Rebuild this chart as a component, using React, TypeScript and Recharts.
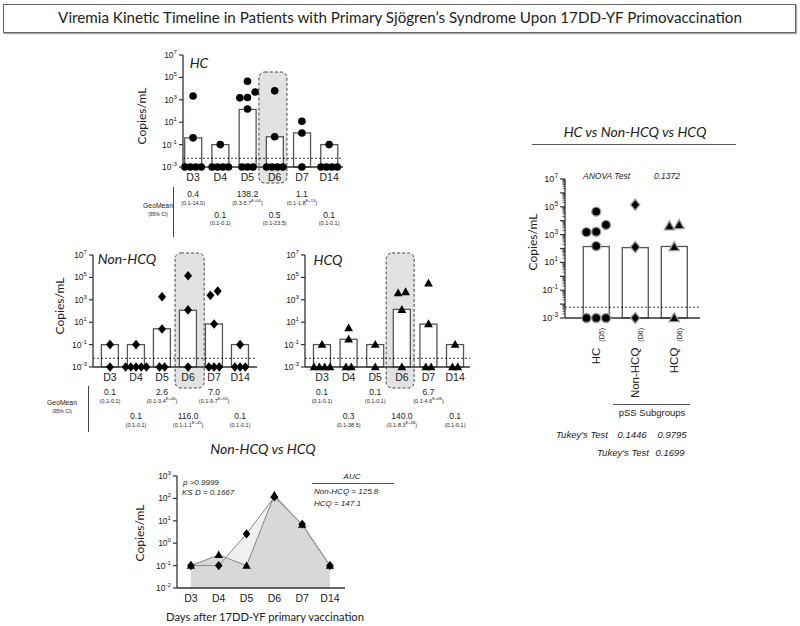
import React from 'react';
import {
  ComposedChart,
  Bar,
  Scatter,
  Area,
  Line,
  XAxis,
  YAxis,
  ReferenceLine,
  ReferenceArea,
} from 'recharts';

const ARIAL = '"Liberation Sans", Arial, sans-serif';
const HUM = 'Lato, "Open Sans", sans-serif';

const days = ['D3', 'D4', 'D5', 'D6', 'D7', 'D14'];
const dayIdx = [0, 1, 2, 3, 4, 5];

// geometric means (copies/mL)
const hcGeoMean = [0.4, 0.1, 138.2, 0.5, 1.1, 0.1];
const nonHcqGeoMean = [0.1, 0.1, 2.6, 116.0, 7.0, 0.1];
const hcqGeoMean = [0.1, 0.3, 0.1, 140.0, 6.7, 0.1];

// 95% CI text: [range, exponent]
const hcCI = [['0.1-14.0'], ['0.1-0.1'], ['0.3-5.7', 'E+04'], ['0.1-23.5'], ['0.1-1.8', 'E+13'], ['0.1-0.1']];
const nonHcqCI = [['0.1-0.1'], ['0.1-0.1'], ['0.1-3.4', 'E+06'], ['0.1-1.1', 'E+45'], ['0.1-9.7', 'E+03'], ['0.1-0.1']];
const hcqCI = [['0.1-0.1'], ['0.1-38.5'], ['0.1-0.1'], ['0.1-8.3', 'E+08'], ['0.1-4.6', 'E+08'], ['0.1-0.1']];

// individual values per day, 0 = undetectable
const hcPoints = [
  [2200, 0.4, 0, 0, 0, 0],
  [0.1, 0, 0, 0, 0],
  [45000, 5000, 1600, 1500, 150, 0, 0, 0],
  [6300, 0.5, 0, 0, 0, 0],
  [12, 1.1, 0],
  [0.1, 0, 0, 0, 0],
];
const nonHcqPoints = [
  [0.1, 0],
  [0.1, 0, 0, 0, 0, 0],
  [1900, 2.5, 0, 0],
  [140000, 126, 0],
  [6000, 2500, 7, 0, 0, 0],
  [0.1, 0, 0, 0],
];
const hcqPoints = [
  [0.1, 0, 0, 0, 0],
  [3, 0.3, 0, 0],
  [0.1, 0],
  [5000, 4000, 130, 0],
  [30000, 7, 0, 0],
  [0.1, 0, 0],
];

const groupLabels = ['HC', 'Non-HCQ', 'HCQ'];
const groupDays = ['(D5)', '(D6)', '(D6)'];
const groupGeoMean = [hcGeoMean[2], nonHcqGeoMean[3], hcqGeoMean[3]];
const groupPoints = [hcPoints[2], nonHcqPoints[3], hcqPoints[3]];

const LOD = 0.006;
const FLOOR = 0.001;
const logTicks = [1e-3, 1e-1, 1e1, 1e3, 1e5, 1e7];
const aucTicks = [1e-2, 1e-1, 1, 1e1, 1e2, 1e3];
const rightTicks: number[] = [];
for (let e = -3; e < 7; e++) for (let m = 1; m < 10; m++) rightTicks.push(m * Math.pow(10, e));
rightTicks.push(1e7);

type Shape = 'circle' | 'diamond' | 'triangle';

// spread overlapping points sideways around the day position
function spread(values: number[], idx: number, stepZero: number, stepNz: number) {
  const items = values.map((v) => ({ v, l: v > 0 ? Math.log10(v) : -3 })).sort((a, b) => a.l - b.l);
  const groups: { v: number; l: number }[][] = [];
  for (const it of items) {
    const g = groups[groups.length - 1];
    if (g && it.l - g[g.length - 1].l < 0.6) g.push(it);
    else groups.push([it]);
  }
  return groups.flatMap((g) =>
    g.map((it, j) => ({
      x: idx + (j - (g.length - 1) / 2) * (it.v > 0 ? stepNz : stepZero),
      y: it.v > 0 ? it.v : FLOOR,
    })),
  );
}

const Marker = ({ cx, cy, shape, r, stroke }: any) => {
  if (cx == null || cy == null) return null;
  const st = stroke ?? 'none';
  if (shape === 'circle') return <circle cx={cx} cy={cy} r={r} fill="#000" stroke={st} strokeWidth={1.3} />;
  if (shape === 'diamond')
    return (
      <path
        d={`M${cx},${cy - r * 1.2}L${cx + r},${cy}L${cx},${cy + r * 1.2}L${cx - r},${cy}Z`}
        fill="#000"
        stroke={st}
        strokeWidth={1.3}
      />
    );
  return (
    <path
      d={`M${cx},${cy - r * 1.15}L${cx + r * 1.1},${cy + r * 0.8}L${cx - r * 1.1},${cy + r * 0.8}Z`}
      fill="#000"
      stroke={st}
      strokeWidth={1.3}
    />
  );
};

// white bar of fixed width centred on the band Recharts gives
const barShape = (w: number) => (p: any) => {
  const cx = p.x + p.width / 2;
  return (
    <rect x={cx - w / 2} y={p.y} width={w} height={Math.max(0, p.height)} fill="#fff" stroke="#555" strokeWidth={1.3} />
  );
};

const PowTick = ({ x, y, payload, fs = 8.5 }: any) => {
  const e = Math.round(Math.log10(payload.value));
  return (
    <g>
      <line x1={x - 4} x2={x} y1={y} y2={y} stroke="#333" strokeWidth={1.2} />
      <text x={x - 6} y={y + 3} textAnchor="end" fontFamily={ARIAL} fontSize={fs} fill="#222">
        10
        <tspan dy={-4} fontSize={fs * 0.72}>
          {e}
        </tspan>
      </text>
    </g>
  );
};

const MinorPowTick = ({ x, y, payload }: any) => {
  const lg = Math.log10(payload.value);
  const e = Math.round(lg);
  const major = Math.abs(lg - e) < 1e-6;
  const labeled = major && Math.abs(e % 2) === 1;
  return (
    <g>
      <line x1={x - (major ? 5 : 2.5)} x2={x} y1={y} y2={y} stroke="#333" strokeWidth={major ? 1.2 : 0.8} />
      {labeled && (
        <text x={x - 7} y={y + 3} textAnchor="end" fontFamily={ARIAL} fontSize={9} fill="#222">
          10
          <tspan dy={-4} fontSize={6.5}>
            {e}
          </tspan>
        </text>
      )}
    </g>
  );
};

const DayTick = ({ x, y, payload }: any) => (
  <text x={x} y={y + 14} textAnchor="middle" fontFamily={ARIAL} fontSize={10.5} fill="#222">
    {days[payload.value]}
  </text>
);

const GroupTick = ({ x, y, payload }: any) => {
  const i = payload.value;
  const ay = y + 10;
  return (
    <text
      transform={`rotate(-90 ${x} ${ay})`}
      x={x}
      y={ay}
      dy="0.36em"
      textAnchor="end"
      fontFamily={ARIAL}
      fontSize={11.5}
      fill="#222"
    >
      {groupLabels[i]}
      <tspan fontSize={7} dx={6} dy={3.5}>
        {groupDays[i]}
      </tspan>
    </text>
  );
};

const HighlightBox = (p: any) => (
  <rect
    x={p.x}
    y={p.y}
    width={p.width}
    height={p.height}
    rx={6}
    fill="#e2e2e2"
    stroke="#444"
    strokeDasharray="3 2"
    strokeWidth={1}
  />
);

type TP = {
  x: number;
  y: number;
  size: number;
  children: React.ReactNode;
  italic?: boolean;
  font?: string;
  anchor?: 'start' | 'middle' | 'end';
  rotate?: boolean;
  sx?: number;
};
const Txt = ({ x, y, size, children, italic, font = ARIAL, anchor = 'middle', rotate, sx = 1 }: TP) => {
  const tx = anchor === 'middle' ? '-50%' : anchor === 'end' ? '-100%' : '0';
  return (
    <div
      style={{
        position: 'absolute',
        left: x,
        top: y,
        fontSize: size,
        fontFamily: font,
        fontStyle: italic ? 'italic' : 'normal',
        color: '#222',
        whiteSpace: 'nowrap',
        lineHeight: 1,
        transformOrigin: '0 0',
        transform: `${rotate ? 'rotate(-90deg) ' : ''}scaleX(${sx}) translate(${tx}, -50%)`,
      }}
    >
      {children}
    </div>
  );
};

const HLine = ({ x, y, w }: { x: number; y: number; w: number }) => (
  <div style={{ position: 'absolute', left: x, top: y, width: w, height: 1, background: '#555' }} />
);
const VLine = ({ x, y, h }: { x: number; y: number; h: number }) => (
  <div style={{ position: 'absolute', left: x, top: y, width: 1, height: h, background: '#444' }} />
);

type PanelProps = {
  axisX: number;
  top: number;
  plotW: number;
  plotH: number;
  dom: [number, number];
  geo: number[];
  pts: number[][];
  shape: Shape;
  box: [number, number, number, number];
};

function DotPanel({ axisX, top, plotW, plotH, dom, geo, pts, shape, box }: PanelProps) {
  const barData = geo.map((g, i) => ({ x: i, gm: g }));
  const scatter = pts.flatMap((v, i) => spread(v, i, 0.2, 0.28));
  return (
    <div style={{ position: 'absolute', left: axisX - 45, top: top - 15 }}>
      <ComposedChart
        width={45 + plotW + 15}
        height={15 + plotH + 30}
        data={barData}
        margin={{ top: 15, right: 15, left: 0, bottom: 0 }}
      >
        <XAxis
          type="number"
          dataKey="x"
          domain={dom}
          ticks={dayIdx}
          interval={0}
          tick={<DayTick />}
          tickLine={false}
          tickSize={0}
          tickMargin={0}
          height={30}
          axisLine={{ stroke: '#333', strokeWidth: 1.3 }}
        />
        <YAxis
          type="number"
          scale="log"
          domain={[1e-3, 1e7]}
          ticks={logTicks}
          interval={0}
          tick={<PowTick />}
          tickLine={false}
          tickSize={0}
          tickMargin={0}
          width={45}
          axisLine={{ stroke: '#333', strokeWidth: 1.3 }}
        />
        <ReferenceArea x1={box[0]} x2={box[1]} y1={box[2]} y2={box[3]} ifOverflow="visible" shape={HighlightBox} />
        <Bar dataKey="gm" shape={barShape(17)} isAnimationActive={false} />
        <ReferenceLine y={LOD} stroke="#000" strokeDasharray="2 2" strokeWidth={0.8} />
        <Scatter
          data={scatter}
          dataKey="y"
          isAnimationActive={false}
          shape={(p: any) => <Marker cx={p.cx} cy={p.cy} shape={shape} r={shape === 'circle' ? 3.8 : 4} />}
        />
      </ComposedChart>
    </div>
  );
}

function GeoTable({ axisX, plotW, dom, geo, ci, y1, y2 }: any) {
  const k = plotW / (dom[1] - dom[0]);
  const cx = (i: number) => axisX + (i - dom[0]) * k;
  return (
    <>
      {geo.map((g: number, i: number) => {
        const y = i % 2 === 0 ? y1 : y2;
        return (
          <React.Fragment key={i}>
            <Txt x={cx(i)} y={y} size={8.5}>
              {g.toFixed(1)}
            </Txt>
            <Txt x={cx(i)} y={y + 9.5} size={5.5}>
              ({ci[i][0]}
              {ci[i][1] && <sup style={{ fontSize: '0.75em', lineHeight: 0 }}>{ci[i][1]}</sup>})
            </Txt>
          </React.Fragment>
        );
      })}
    </>
  );
}

function GroupPanel() {
  const axisX = 565;
  const top = 179;
  const plotW = 135;
  const plotH = 139;
  const barData = groupGeoMean.map((g, i) => ({ x: i, gm: g }));
  const shapes: Shape[] = ['circle', 'diamond', 'triangle'];
  return (
    <div style={{ position: 'absolute', left: axisX - 45, top: top - 15 }}>
      <ComposedChart
        width={45 + plotW + 15}
        height={15 + plotH + 90}
        data={barData}
        margin={{ top: 15, right: 15, left: 0, bottom: 0 }}
      >
        <XAxis
          type="number"
          dataKey="x"
          domain={[-0.8, 2.66]}
          ticks={[0, 1, 2]}
          interval={0}
          tick={<GroupTick />}
          tickLine={false}
          tickSize={0}
          tickMargin={0}
          height={90}
          axisLine={{ stroke: '#333', strokeWidth: 1.3 }}
        />
        <YAxis
          type="number"
          scale="log"
          domain={[1e-3, 1e7]}
          ticks={rightTicks}
          interval={0}
          tick={<MinorPowTick />}
          tickLine={false}
          tickSize={0}
          tickMargin={0}
          width={45}
          axisLine={{ stroke: '#333', strokeWidth: 1.3 }}
        />
        <Bar dataKey="gm" shape={barShape(26)} isAnimationActive={false} />
        <ReferenceLine y={LOD} stroke="#000" strokeDasharray="2 2" strokeWidth={0.8} />
        {groupPoints.map((v, i) => (
          <Scatter
            key={i}
            data={spread(v, i, 0.25, 0.25)}
            dataKey="y"
            isAnimationActive={false}
            shape={(p: any) => (
              <Marker cx={p.cx} cy={p.cy} shape={shapes[i]} r={shapes[i] === 'circle' ? 4.5 : 4.6} stroke="#9a9a9a" />
            )}
          />
        ))}
      </ComposedChart>
    </div>
  );
}

function AucPanel() {
  const axisX = 177;
  const top = 476;
  const plotW = 168;
  const plotH = 112;
  const data = dayIdx.map((i) => ({ x: i, non: nonHcqGeoMean[i], hcq: hcqGeoMean[i] }));
  return (
    <div style={{ position: 'absolute', left: axisX - 45, top: top - 15 }}>
      <ComposedChart
        width={45 + plotW + 15}
        height={15 + plotH + 30}
        data={data}
        margin={{ top: 15, right: 15, left: 0, bottom: 0 }}
      >
        <XAxis
          type="number"
          dataKey="x"
          domain={[-0.5, 5.54]}
          ticks={dayIdx}
          interval={0}
          tick={<DayTick />}
          tickLine={false}
          tickSize={0}
          tickMargin={0}
          height={30}
          axisLine={{ stroke: '#333', strokeWidth: 1.3 }}
        />
        <YAxis
          type="number"
          scale="log"
          domain={[1e-2, 1e3]}
          ticks={aucTicks}
          interval={0}
          tick={<PowTick />}
          tickLine={false}
          tickSize={0}
          tickMargin={0}
          width={45}
          axisLine={{ stroke: '#333', strokeWidth: 1.3 }}
        />
        <Area
          type="linear"
          dataKey="non"
          baseValue={0.01}
          fill="#f0f0f0"
          fillOpacity={1}
          stroke="none"
          isAnimationActive={false}
        />
        <Area
          type="linear"
          dataKey="hcq"
          baseValue={0.01}
          fill="#d8d8d8"
          fillOpacity={1}
          stroke="none"
          isAnimationActive={false}
        />
        <Line
          type="linear"
          dataKey="non"
          stroke="#888"
          strokeWidth={1}
          isAnimationActive={false}
          dot={(p: any) => <Marker key={`n${p.index}`} cx={p.cx} cy={p.cy} shape="diamond" r={3.8} />}
        />
        <Line
          type="linear"
          dataKey="hcq"
          stroke="#888"
          strokeWidth={1}
          isAnimationActive={false}
          dot={(p: any) => <Marker key={`h${p.index}`} cx={p.cx} cy={p.cy} shape="triangle" r={3.8} />}
        />
      </ComposedChart>
    </div>
  );
}

const hcDom: [number, number] = [-0.37, 5.51];
const nonDom: [number, number] = [-0.654, 5.65];
const hcqDom: [number, number] = [-0.64, 5.56];

export default function App() {
  return (
    <div style={{ position: 'absolute', left: 0, top: 0, width: 800, height: 626, background: '#fff', overflow: 'hidden' }}>
      {/* title box */}
      <div
        style={{
          position: 'absolute',
          left: 3,
          top: 4,
          width: 793,
          height: 29,
          boxSizing: 'border-box',
          border: '1px solid #666',
          boxShadow: '1px 1px 1px #aaa',
        }}
      />
      <Txt x={400} y={18} size={15.2} font={HUM}>
        Viremia Kinetic Timeline in Patients with Primary Sjögren’s Syndrome Upon 17DD-YF Primovaccination
      </Txt>

      {/* HC */}
      <DotPanel
        axisX={183}
        top={55}
        plotW={160}
        plotH={112}
        dom={hcDom}
        geo={hcGeoMean}
        pts={hcPoints}
        shape="circle"
        box={[2.42, 3.45, Math.pow(10, -4.43), Math.pow(10, 5.48)]}
      />
      <Txt x={199} y={63} size={14} font={HUM} italic>
        HC
      </Txt>
      <Txt x={142} y={116} size={12} font={HUM} rotate>
        Copies/mL
      </Txt>
      <VLine x={173} y={187} h={50} />
      <Txt x={158} y={206} size={8} sx={0.85}>
        GeoMean
      </Txt>
      <Txt x={158} y={213.5} size={5}>
        (95% CI)
      </Txt>
      <GeoTable axisX={183} plotW={160} dom={hcDom} geo={hcGeoMean} ci={hcCI} y1={194} y2={214.5} />

      {/* Non-HCQ */}
      <DotPanel
        axisX={93}
        top={255}
        plotW={164}
        plotH={112}
        dom={nonDom}
        geo={nonHcqGeoMean}
        pts={nonHcqPoints}
        shape="diamond"
        box={[2.5, 3.62, Math.pow(10, -4.875), Math.pow(10, 7.18)]}
      />
      <Txt x={127} y={259} size={14} font={HUM} italic>
        Non-HCQ
      </Txt>
      <Txt x={60} y={306} size={12} font={HUM} rotate>
        Copies/mL
      </Txt>
      <VLine x={88} y={386} h={46} />
      <Txt x={62} y={403} size={8} sx={0.85}>
        GeoMean
      </Txt>
      <Txt x={62} y={410.5} size={5}>
        (95% CI)
      </Txt>
      <GeoTable axisX={93} plotW={164} dom={nonDom} geo={nonHcqGeoMean} ci={nonHcqCI} y1={392} y2={416} />

      {/* HCQ */}
      <DotPanel
        axisX={305}
        top={255}
        plotW={165}
        plotH={112}
        dom={hcqDom}
        geo={hcqGeoMean}
        pts={hcqPoints}
        shape="triangle"
        box={[2.41, 3.46, Math.pow(10, -4.875), Math.pow(10, 7.18)]}
      />
      <Txt x={328} y={260} size={14} font={HUM} italic>
        HCQ
      </Txt>
      <GeoTable axisX={305} plotW={165} dom={hcqDom} geo={hcqGeoMean} ci={hcqCI} y1={392} y2={416} />

      {/* Non-HCQ vs HCQ */}
      <AucPanel />
      <Txt x={263} y={449} size={14} font={HUM} italic>
        Non-HCQ vs HCQ
      </Txt>
      <Txt x={140} y={533} size={12} font={HUM} rotate>
        Copies/mL
      </Txt>
      <Txt x={183} y={483} size={8} italic anchor="start">
        p {'>'}0.9999
      </Txt>
      <Txt x={182} y={493} size={8} italic anchor="start">
        KS D = 0.1667
      </Txt>
      <Txt x={352} y={477} size={8} italic>
        AUC
      </Txt>
      <HLine x={312} y={483} w={82} />
      <Txt x={314} y={492} size={8} italic anchor="start">
        Non-HCQ = 125.8
      </Txt>
      <Txt x={314} y={504} size={8} italic anchor="start">
        HCQ = 147.1
      </Txt>
      <Txt x={265} y={617} size={11.2} font={HUM}>
        Days after 17DD-YF primary vaccination
      </Txt>

      {/* HC vs Non-HCQ vs HCQ */}
      <GroupPanel />
      <Txt x={635} y={132} size={14} font={HUM} italic>
        HC vs Non-HCQ vs HCQ
      </Txt>
      <HLine x={532} y={144} w={204} />
      <Txt x={533} y={242} size={12} font={HUM} rotate>
        Copies/mL
      </Txt>
      <Txt x={583} y={176} size={8.5} italic anchor="start">
        ANOVA Test
      </Txt>
      <Txt x={667} y={176} size={8.5} italic>
        0.1372
      </Txt>
      <HLine x={613} y={404} w={77} />
      <Txt x={652} y={413} size={9.5}>
        pSS Subgroups
      </Txt>
      <Txt x={608} y={435} size={9.5} italic anchor="end">
        Tukey's Test
      </Txt>
      <Txt x={632} y={435} size={9.5} italic>
        0.1446
      </Txt>
      <Txt x={672} y={435} size={9.5} italic>
        0.9795
      </Txt>
      <Txt x={649} y={453} size={9.5} italic anchor="end">
        Tukey's Test
      </Txt>
      <Txt x={670} y={453} size={9.5} italic>
        0.1699
      </Txt>
    </div>
  );
}
